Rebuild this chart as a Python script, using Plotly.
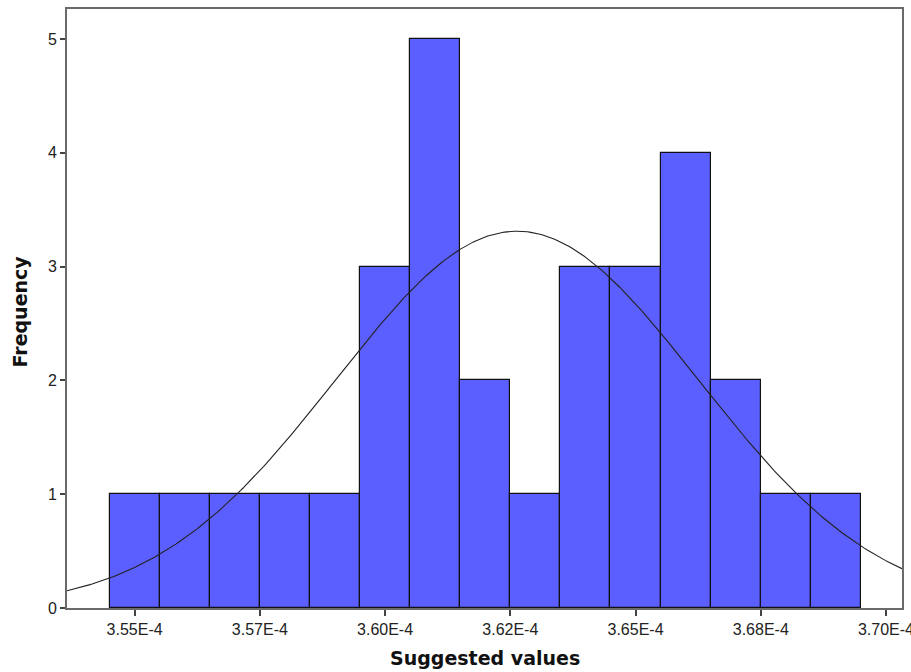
import numpy as np
import plotly.graph_objects as go

# Histogram data (bin centres, counts), bin width 1e-6
bin_centers = [3.55e-4, 3.56e-4, 3.57e-4, 3.58e-4, 3.59e-4, 3.60e-4, 3.61e-4, 3.62e-4,
               3.63e-4, 3.64e-4, 3.65e-4, 3.66e-4, 3.67e-4, 3.68e-4, 3.69e-4]
counts = [1, 1, 1, 1, 1, 3, 5, 2, 1, 3, 3, 4, 2, 1, 1]
bin_width = 1e-6

x_tick_vals = [3.55e-4, 3.575e-4, 3.60e-4, 3.625e-4, 3.65e-4, 3.675e-4, 3.70e-4]
x_tick_text = ["3.55E-4", "3.57E-4", "3.60E-4", "3.62E-4", "3.65E-4", "3.68E-4", "3.70E-4"]
y_tick_vals = [0, 1, 2, 3, 4, 5]

x_range = [3.5365e-4, 3.7032e-4]
y_range = [0, 5.263]

# Normal curve fitted to the binned data
c = np.array(bin_centers)
n = np.array(counts)
N = n.sum()
mean = (c * n).sum() / N
sd = np.sqrt(((c - mean) ** 2 * n).sum() / (N - 1))
xs = np.linspace(x_range[0], x_range[1], 400)
ys = N * bin_width / (sd * np.sqrt(2 * np.pi)) * np.exp(-0.5 * ((xs - mean) / sd) ** 2)

fig = go.Figure()
fig.add_trace(go.Bar(
    x=bin_centers, y=counts, width=[bin_width] * len(bin_centers),
    marker=dict(color="#5B5FFF", line=dict(color="#111111", width=1.2)),
    showlegend=False, hoverinfo="x+y",
))
fig.add_trace(go.Scatter(
    x=xs, y=ys, mode="lines", line=dict(color="#222222", width=1.1),
    showlegend=False, hoverinfo="skip",
))

title_font = dict(family="DejaVu Sans, sans-serif", size=19, color="#111111", weight="bold")
tick_font = dict(family="Liberation Sans, Arial, sans-serif", size=16, color="#222222")

fig.update_layout(
    width=911, height=672,
    margin=dict(l=67, r=9, t=9, b=64),
    paper_bgcolor="white", plot_bgcolor="white",
    bargap=0,
    font=dict(family="Liberation Sans, Arial, sans-serif", color="#222222"),
    annotations=[
        dict(text="Suggested values", xref="paper", yref="paper", x=0.5, y=0,
             xanchor="center", yanchor="middle", yshift=-50, showarrow=False, font=title_font),
        dict(text="Frequency", xref="paper", yref="paper", x=0, y=0.5, textangle=-90,
             xanchor="center", yanchor="middle", xshift=-48, yshift=-3, showarrow=False, font=title_font),
    ],
)
fig.update_xaxes(
    range=x_range, tickvals=x_tick_vals, ticktext=x_tick_text,
    ticks="outside", ticklen=6, tickcolor="#444444", tickwidth=1.5,
    tickfont=tick_font, automargin=False, ticklabeloverflow="allow",
    showline=True, linecolor="#6a6a6a", linewidth=2, mirror=True,
    showgrid=False, zeroline=False,
)
fig.update_yaxes(
    range=y_range, tickvals=y_tick_vals,
    ticks="outside", ticklen=5, tickcolor="#444444", tickwidth=1.5,
    tickfont=tick_font, automargin=False,
    showline=True, linecolor="#6a6a6a", linewidth=2, mirror=True,
    showgrid=False, zeroline=False,
)

fig.write_html("out.html")
